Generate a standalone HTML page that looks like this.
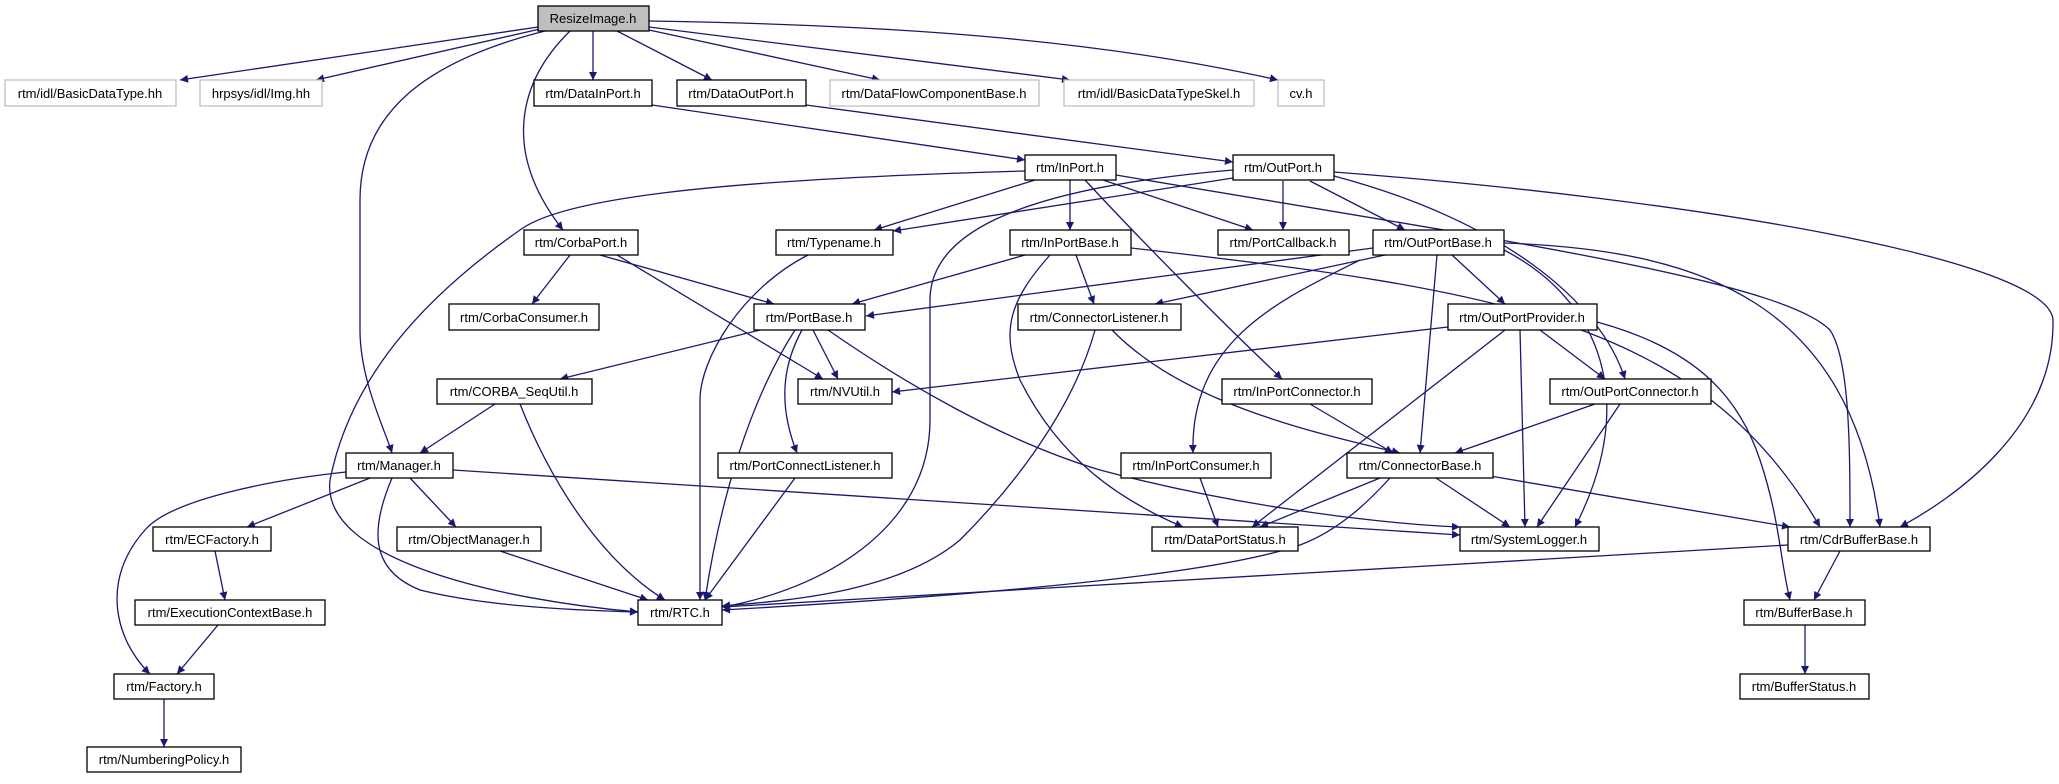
<!DOCTYPE html>
<html><head><meta charset="utf-8"><style>
html,body{margin:0;padding:0;background:#fff;}
svg{display:block;}
text{font-family:"Liberation Sans",sans-serif;font-size:13px;fill:#000;}
</style></head><body>
<svg width="2059" height="784" viewBox="0 0 2059 784" xmlns="http://www.w3.org/2000/svg">
<defs><marker id="a" viewBox="0 0 10 10" refX="10" refY="5" markerWidth="11" markerHeight="8" markerUnits="userSpaceOnUse" orient="auto"><path d="M0,0 L10,5 L0,10 z" fill="#191970"/></marker></defs>
<g fill="none" stroke="#191970" stroke-width="1.3" marker-end="url(#a)">
<path d="M538,27 L180,80"/>
<path d="M540,29 L316,80"/>
<path d="M545,31 C430,60 360,110 360,200 L360,330 C360,380 385,430 392,453"/>
<path d="M570,31 C520,80 500,150 563,230"/>
<path d="M593,31 L593,80"/>
<path d="M617,31 L712,80"/>
<path d="M649,30 L880,80"/>
<path d="M649,27 L1070,80"/>
<path d="M649,21 C900,25 1100,40 1278,80"/>
<path d="M652,105 L1025,160"/>
<path d="M806,105 L1233,162"/>
<path d="M1025,171 C700,180 560,200 520,230 C420,300 350,380 330,480 C320,560 500,600 638,612"/>
<path d="M1035,180 L874,230"/>
<path d="M1070,180 L1070,230"/>
<path d="M1103,180 L1253,230"/>
<path d="M1085,180 C1150,250 1230,330 1282,379"/>
<path d="M1116,175 C1500,240 1780,280 1830,330 C1850,360 1850,450 1850,527"/>
<path d="M1233,170 C1000,190 930,240 930,300 L930,420 C930,530 820,590 722,607"/>
<path d="M1233,178 L893,231"/>
<path d="M1283,181 L1283,230"/>
<path d="M1310,181 L1405,230"/>
<path d="M1334,176 C1500,220 1600,300 1625,379"/>
<path d="M1334,172 C1700,200 2050,260 2053,320 C2055,430 1950,500 1900,527"/>
<path d="M570,255 L532,304"/>
<path d="M600,255 L774,304"/>
<path d="M617,255 L823,379"/>
<path d="M808,255 C740,290 700,360 700,400 L700,600"/>
<path d="M1025,255 L852,304"/>
<path d="M1076,255 L1094,304"/>
<path d="M1050,255 C1010,300 1000,330 1020,380 C1060,460 1120,500 1183,527"/>
<path d="M1131,248 C1500,290 1700,320 1820,527"/>
<path d="M1373,248 L866,316"/>
<path d="M1385,255 L1155,304"/>
<path d="M1360,260 C1280,300 1190,340 1193,453"/>
<path d="M1437,255 L1420,453"/>
<path d="M1452,255 L1505,304"/>
<path d="M1504,250 C1600,300 1640,400 1575,527"/>
<path d="M1504,243 C1700,250 1850,300 1880,527"/>
<path d="M760,330 L560,379"/>
<path d="M813,330 L838,379"/>
<path d="M795,330 C750,400 720,500 705,600"/>
<path d="M802,330 C780,370 780,410 797,453"/>
<path d="M828,330 C900,380 1000,440 1100,470 C1250,510 1400,525 1460,527"/>
<path d="M1095,330 C1070,420 1000,500 960,540 C900,590 800,600 722,606"/>
<path d="M1112,330 C1180,400 1300,430 1400,453"/>
<path d="M1448,327 L892,392"/>
<path d="M1505,330 L1252,527"/>
<path d="M1520,330 L1525,527"/>
<path d="M1540,330 L1605,379"/>
<path d="M1597,322 C1700,350 1740,400 1760,460 C1780,520 1780,560 1790,600"/>
<path d="M495,404 L420,453"/>
<path d="M520,404 C550,480 600,560 665,600"/>
<path d="M1310,404 L1393,453"/>
<path d="M1595,404 L1455,453"/>
<path d="M1620,404 L1537,527"/>
<path d="M346,472 C270,480 170,500 145,530 C100,580 115,640 150,674"/>
<path d="M370,478 L247,527"/>
<path d="M392,478 C370,530 370,570 420,590 C480,605 560,610 638,612"/>
<path d="M410,478 L456,527"/>
<path d="M453,470 L1460,535"/>
<path d="M795,478 L705,600"/>
<path d="M1200,478 L1218,527"/>
<path d="M1380,478 L1260,527"/>
<path d="M1390,478 C1370,500 1340,530 1300,545 C1200,580 900,600 722,610"/>
<path d="M1436,478 L1510,527"/>
<path d="M1490,476 L1790,527"/>
<path d="M500,551 L648,600"/>
<path d="M215,551 L225,600"/>
<path d="M218,625 L177,674"/>
<path d="M164,699 L164,747"/>
<path d="M1788,545 L722,607"/>
<path d="M1840,551 L1814,600"/>
<path d="M1805,625 L1805,674"/>
</g>
<g stroke-width="1.3">
<rect x="538" y="6" width="111" height="25" fill="#bfbfbf" stroke="#000"/>
<g fill="#fff" stroke="#bfbfbf">
<rect x="5" y="80" width="171" height="26"/>
<rect x="200" y="80" width="122" height="26"/>
<rect x="830" y="80" width="209" height="26"/>
<rect x="1064" y="80" width="190" height="26"/>
<rect x="1278" y="80" width="46" height="26"/>
</g>
<g fill="#fff" stroke="#000">
<rect x="534" y="80" width="118" height="26"/>
<rect x="677" y="80" width="129" height="26"/>
<rect x="1025" y="155" width="91" height="25"/>
<rect x="1233" y="155" width="101" height="25"/>
<rect x="524" y="230" width="114" height="25"/>
<rect x="776" y="230" width="117" height="25"/>
<rect x="1010" y="230" width="121" height="25"/>
<rect x="1218" y="230" width="131" height="25"/>
<rect x="1373" y="230" width="131" height="25"/>
<rect x="449" y="304" width="150" height="26"/>
<rect x="754" y="304" width="111" height="26"/>
<rect x="1018" y="304" width="163" height="26"/>
<rect x="1448" y="304" width="149" height="26"/>
<rect x="437" y="379" width="155" height="25"/>
<rect x="798" y="379" width="94" height="25"/>
<rect x="1222" y="379" width="150" height="25"/>
<rect x="1550" y="379" width="161" height="25"/>
<rect x="346" y="453" width="107" height="25"/>
<rect x="718" y="453" width="174" height="25"/>
<rect x="1121" y="453" width="150" height="25"/>
<rect x="1347" y="453" width="146" height="25"/>
<rect x="153" y="527" width="118" height="24"/>
<rect x="397" y="527" width="144" height="24"/>
<rect x="1152" y="527" width="146" height="24"/>
<rect x="1460" y="527" width="139" height="24"/>
<rect x="1788" y="527" width="142" height="24"/>
<rect x="135" y="600" width="190" height="25"/>
<rect x="638" y="600" width="84" height="25"/>
<rect x="1744" y="600" width="121" height="25"/>
<rect x="114" y="674" width="100" height="25"/>
<rect x="1740" y="674" width="129" height="25"/>
<rect x="87" y="747" width="154" height="25"/>
</g>
</g>
<g text-anchor="middle">
<text x="593" y="23">ResizeImage.h</text>
<text x="90" y="98">rtm/idl/BasicDataType.hh</text>
<text x="261" y="98">hrpsys/idl/Img.hh</text>
<text x="934" y="98">rtm/DataFlowComponentBase.h</text>
<text x="1159" y="98">rtm/idl/BasicDataTypeSkel.h</text>
<text x="1301" y="98">cv.h</text>
<text x="593" y="98">rtm/DataInPort.h</text>
<text x="741" y="98">rtm/DataOutPort.h</text>
<text x="1070" y="172">rtm/InPort.h</text>
<text x="1283" y="172">rtm/OutPort.h</text>
<text x="581" y="247">rtm/CorbaPort.h</text>
<text x="834" y="247">rtm/Typename.h</text>
<text x="1070" y="247">rtm/InPortBase.h</text>
<text x="1283" y="247">rtm/PortCallback.h</text>
<text x="1438" y="247">rtm/OutPortBase.h</text>
<text x="524" y="322">rtm/CorbaConsumer.h</text>
<text x="809" y="322">rtm/PortBase.h</text>
<text x="1099" y="322">rtm/ConnectorListener.h</text>
<text x="1522" y="322">rtm/OutPortProvider.h</text>
<text x="514" y="396">rtm/CORBA_SeqUtil.h</text>
<text x="845" y="396">rtm/NVUtil.h</text>
<text x="1297" y="396">rtm/InPortConnector.h</text>
<text x="1630" y="396">rtm/OutPortConnector.h</text>
<text x="399" y="470">rtm/Manager.h</text>
<text x="805" y="470">rtm/PortConnectListener.h</text>
<text x="1196" y="470">rtm/InPortConsumer.h</text>
<text x="1420" y="470">rtm/ConnectorBase.h</text>
<text x="212" y="544">rtm/ECFactory.h</text>
<text x="469" y="544">rtm/ObjectManager.h</text>
<text x="1225" y="544">rtm/DataPortStatus.h</text>
<text x="1529" y="544">rtm/SystemLogger.h</text>
<text x="1859" y="544">rtm/CdrBufferBase.h</text>
<text x="230" y="617">rtm/ExecutionContextBase.h</text>
<text x="680" y="617">rtm/RTC.h</text>
<text x="1804" y="617">rtm/BufferBase.h</text>
<text x="164" y="691">rtm/Factory.h</text>
<text x="1804" y="691">rtm/BufferStatus.h</text>
<text x="164" y="764">rtm/NumberingPolicy.h</text>
</g>
</svg>
</body></html>
